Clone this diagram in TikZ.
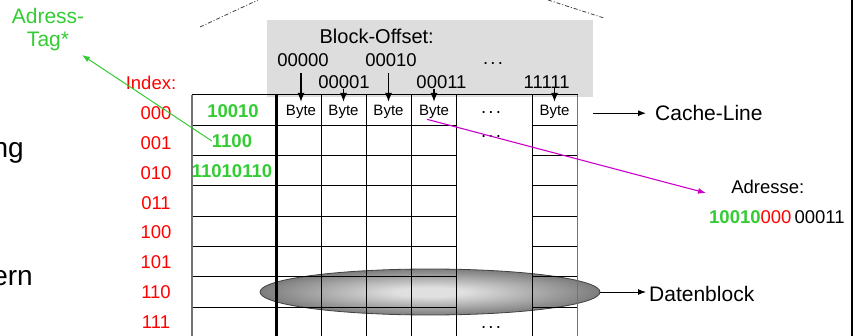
\documentclass[tikz,border=0pt]{standalone}
\usepackage{fontspec}
\setmainfont{Liberation Sans}
\usepackage{tikz}
\usetikzlibrary{arrows.meta}
\usetikzlibrary{shapes.geometric}
\tikzset{>={Latex[length=8pt,width=6pt]}}

\definecolor{tagcol}{RGB}{51,204,51}
\definecolor{idxcol}{RGB}{255,0,0}
\definecolor{adrcol}{RGB}{204,0,204}
\definecolor{boxcol}{RGB}{221,221,221}
\definecolor{blkin}{RGB}{224,224,224}
\definecolor{blkout}{RGB}{90,90,90}
\pgfdeclareradialshading{blockshade}{\pgfpoint{0bp}{0bp}}{color(0bp)=(blkin); color(5bp)=(blkin); color(32bp)=(blkout); color(100bp)=(blkout)}

\newcommand{\spreaddots}{.\hspace{2.2pt}.\hspace{2.2pt}.}

\tikzset{
    txt/.style={inner sep=0pt, anchor=base, font=\fontsize{18.5}{22}\selectfont},
    bigtxt/.style={txt, font=\fontsize{21}{23.5}\selectfont},
    idxtxt/.style={txt, text=idxcol},
    tagtxt/.style={txt, text=tagcol, font=\fontsize{18.5}{22}\selectfont\bfseries},
    bytetxt/.style={txt, font=\fontsize{15}{18}\selectfont},
    gridline/.style={line width=1pt},
    edgeline/.style={line width=1.2pt, black!55},
    offarrow/.style={->, line width=1.3pt, >={Latex[length=9pt,width=7pt]}},
    viewline/.style={line width=0.8pt, black!75, dash pattern=on 4pt off 2pt on 1pt off 2pt},
}

\begin{document}
\begin{tikzpicture}[x=1pt, y=-1pt]
    \useasboundingbox (0,0) rectangle (858,336);

    \draw[viewline] (200,27) -- (258,0);
    \draw[viewline] (548,0) -- (605,18.3);
    \draw[line width=2pt] (852.3,0) -- (852.3,336);

    \node[fill=boxcol, minimum width=326pt, minimum height=77pt, inner sep=0pt] (offbox) at (430,58.5) {};
    \node[ellipse, shade, shading=blockshade, draw=black!75, line width=0.8pt,
          minimum width=340pt, minimum height=46pt, inner sep=0pt] (blk) at (430,292) {};

    % cache table
    \foreach \k [evaluate=\k as \ry using 95+30.33*\k] in {1,...,7}
        \draw[gridline] (192,\ry) -- (456.7,\ry) (532.5,\ry) -- (577.7,\ry);
    \foreach \cx in {321.3,366.7,411.7,456.7,532.5}
        \draw[gridline] (\cx,95) -- (\cx,336);
    \draw[gridline] (192,95) -- (577.7,95);
    \draw[edgeline] (192,95) -- (192,336);
    \draw[edgeline] (577.7,95) -- (577.7,336);
    \draw[line width=3pt] (276,95) -- (276,336);

    \node[idxtxt] (idxhead) at (151,89.3) {Index:};
    \foreach \b [count=\k from 0] in {000,001,010,011,100,101,110,111}
        \node[idxtxt] (idx\k) at (156,{119.5+29.85*\k}) {\b};

    \node[tagtxt] (tag0) at (233,117.3) {10010};
    \node[tagtxt] (tag1) at (232,147.3) {1100};
    \node[tagtxt] (tag2) at (232,178) {11010110};

    \node[bigtxt, text=tagcol, align=center] (adrtag) at (48,46.8) {Adress-\\Tag*};
    \coordinate (tagtip) at (82,55);
    \draw[->, tagcol, line width=1pt] (tag1.west) -- (tagtip);

    \node[bigtxt, font=\fontsize{20}{24}\selectfont] (offhead) at (376.7,43.3) {Block-Offset:};
    \node[txt] (off0) at (303,66.7) {00000};
    \node[txt] (off2) at (391,66.7) {00010};
    \node[txt] (offdots) at (493,65) {\spreaddots};
    \node[txt] (off1) at (344,88.3) {00001};
    \node[txt] (off3) at (441.5,88.3) {00011};
    \node[txt] (off4) at (546.7,88.3) {11111};

    \foreach \x [count=\i from 0] in {301,343.5,388.5,434,554.5}
        \node[bytetxt] (byte\i) at (\x,116) {Byte};
    \foreach \i in {0,2}
        \draw[offarrow, shorten <=6pt, shorten >=3.5pt] (off\i.south -| byte\i.north) -- (byte\i.north);
    \foreach \i in {1,3,4}
        \draw[offarrow, shorten >=3.5pt] (off\i.south -| byte\i.north) -- (byte\i.north);

    \node[txt] (dots0) at (491,114) {\spreaddots};
    \node[txt] (dots1) at (491,138) {\spreaddots};
    \node[txt] (dots7) at (491,328) {\spreaddots};

    \node[bigtxt, anchor=base west] (cline) at (655,120.7) {Cache-Line};
    \draw[->, line width=1pt, shorten >=9pt] (offbox.east |- cline.west) -- (cline.west);

    \node[bigtxt, anchor=base west] (dblock) at (649,301.5) {Datenblock};
    \draw[->, line width=1pt, shorten >=3pt] (blk.east) -- (blk.east -| dblock.west);

    \node[txt] (adrhead) at (767.8,193.3) {Adresse:};
    \node[txt, anchor=base west] (adrbits) at (709,223.3)
        {{\color{tagcol}\bfseries 10010}{\color{idxcol}000}\hspace{3pt}00011};
    \coordinate (adrtip) at (706,193);
    \draw[->, adrcol, line width=1.1pt] ([xshift=-7pt]byte3.south) -- (adrtip);

    \node[txt, font=\fontsize{28}{32}\selectfont, anchor=base east] (cutng) at (24,158) {ng};
    \node[txt, font=\fontsize{28}{32}\selectfont, anchor=base east] (cutern) at (33,286) {ern};
\end{tikzpicture}
\end{document}
